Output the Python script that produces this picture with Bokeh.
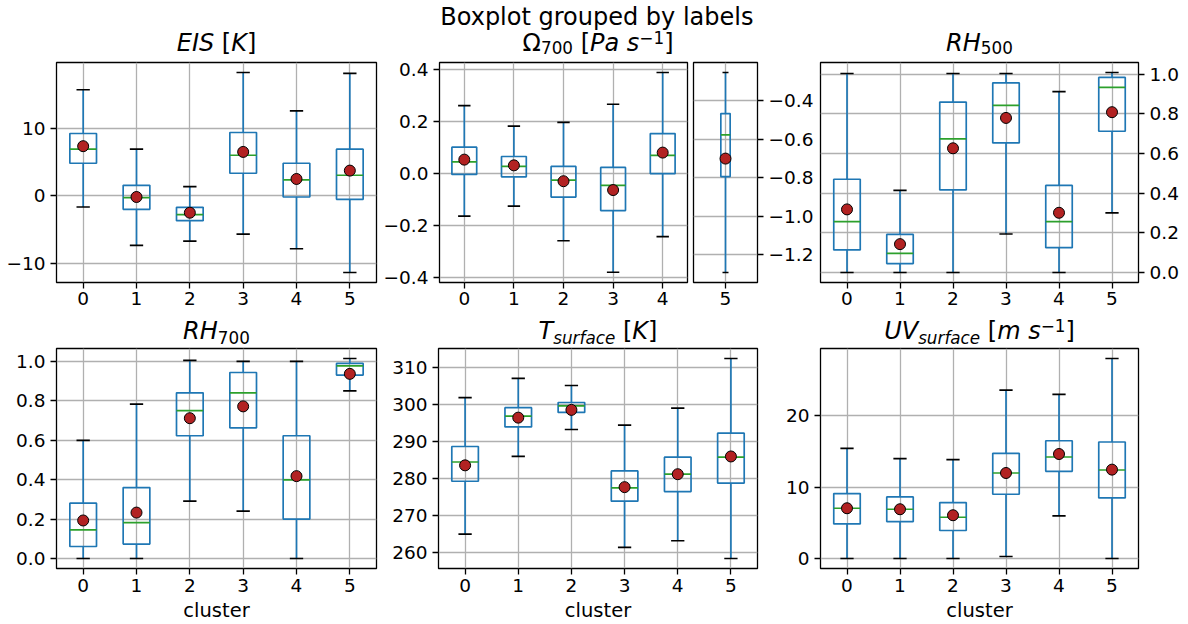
from bokeh.plotting import figure
from bokeh.layouts import column, row
from bokeh.models import Range1d, FixedTicker, CustomJSTickFormatter, ColumnDataSource
from bokeh.core.properties import value
from bokeh.embed import file_html
from bokeh.resources import INLINE

# ---------------- data ----------------
clusters = [0, 1, 2, 3, 4, 5]

eis_low  = [-1.63, -7.33, -6.68, -5.64, -7.82, -11.34]
eis_q1   = [4.85, -1.98, -3.66, 3.37, -0.15, -0.50]
eis_med  = [6.93, -0.25, -2.77, 6.04, 2.38, 3.07]
eis_q3   = [9.26, 1.58, -1.68, 9.41, 4.85, 6.93]
eis_high = [15.74, 6.93, 1.39, 18.30, 12.62, 18.17]
eis_mean = [7.38, -0.15, -2.48, 6.53, 2.52, 3.76]

om_low  = [-0.164, -0.126, -0.259, -0.380, -0.243, -0.381]
om_q1   = [-0.004, -0.013, -0.091, -0.143, -0.001, -0.012]
om_med  = [0.044, 0.027, -0.026, -0.046, 0.069, 0.148]
om_q3   = [0.101, 0.065, 0.027, 0.023, 0.153, 0.230]
om_high = [0.261, 0.182, 0.196, 0.266, 0.388, 0.388]
om_mean = [0.053, 0.031, -0.030, -0.064, 0.080, 0.057]

rh5_low  = [0.0, 0.0, 0.0, 0.194, 0.0, 0.301]
rh5_q1   = [0.114, 0.045, 0.416, 0.653, 0.125, 0.712]
rh5_med  = [0.256, 0.096, 0.673, 0.842, 0.256, 0.933]
rh5_q3   = [0.470, 0.192, 0.859, 0.956, 0.439, 0.983]
rh5_high = [1.003, 0.414, 1.003, 1.003, 0.912, 1.008]
rh5_mean = [0.318, 0.143, 0.626, 0.779, 0.301, 0.808]

rh7_low  = [0.0, 0.0, 0.291, 0.240, 0.0, 0.851]
rh7_q1   = [0.061, 0.073, 0.623, 0.663, 0.200, 0.931]
rh7_med  = [0.145, 0.182, 0.750, 0.841, 0.399, 0.978]
rh7_q3   = [0.281, 0.360, 0.841, 0.944, 0.623, 0.990]
rh7_high = [0.599, 0.783, 1.005, 1.000, 1.000, 1.015]
rh7_mean = [0.193, 0.233, 0.712, 0.772, 0.418, 0.937]

ts_low  = [265.0, 286.0, 293.3, 261.4, 263.2, 258.4]
ts_q1   = [279.3, 294.0, 297.9, 273.9, 276.5, 278.8]
ts_med  = [284.5, 296.9, 299.7, 277.5, 281.2, 285.8]
ts_q3   = [288.7, 299.2, 300.6, 282.1, 285.8, 292.3]
ts_high = [301.9, 307.1, 305.2, 294.5, 299.1, 312.5]
ts_mean = [283.6, 296.5, 298.6, 277.7, 281.2, 286.0]

uv_low  = [0.0, 0.0, 0.0, 0.28, 5.97, 0.0]
uv_q1   = [4.85, 5.17, 3.92, 9.00, 12.21, 8.48]
uv_med  = [7.04, 6.90, 5.78, 11.98, 14.22, 12.40]
uv_q3   = [9.09, 8.62, 7.83, 14.73, 16.50, 16.32]
uv_high = [15.43, 13.99, 13.85, 23.59, 22.98, 28.02]
uv_mean = [7.04, 6.90, 6.06, 11.98, 14.64, 12.45]

eis_ticks = [-10, 0, 10]
om_ticks = [-0.4, -0.2, 0.0, 0.2, 0.4]
twin_ticks = [-1.2, -1.0, -0.8, -0.6, -0.4]
twin_limits = [-1.344, -0.2026]
rh_ticks = [0.0, 0.2, 0.4, 0.6, 0.8, 1.0]
ts_ticks = [260, 270, 280, 290, 300, 310]
uv_ticks = [0, 10, 20]

suptitle = "Boxplot grouped by labels"
xlabel = "cluster"

# ---------------- styling ----------------
C_BOX = "#1f77b4"
C_MED = "#2ca02c"
C_MEAN = "#b22222"
LW = 1.7
FONT = "DejaVu Sans"
TICK_FS = "18.5px"
XLAB_FS = "19.5px"
TITLE_FS = 24.0
BASE_SHIFT = 0.336   # Bokeh places 'alphabetic' text this many em lower


def yrange(low, high, m=0.05):
    lo, hi = min(low), max(high)
    s = hi - lo
    return Range1d(lo - m * s, hi + m * s)


def fmt(d):
    return CustomJSTickFormatter(args=dict(d=d), code="""
const s = Math.abs(tick).toFixed(d);
return (tick < 0 && parseFloat(s) != 0 ? "\\u2212" : "") + s;
""")


def make_fig(w, h, xr, yr, bl, br, bt, bb, yloc="left"):
    p = figure(width=w, height=h, x_range=xr, y_range=yr, output_backend="svg",
               toolbar_location=None, title=None, y_axis_location=yloc,
               min_border_left=bl, min_border_right=br, min_border_top=bt,
               min_border_bottom=bb)
    p.outline_line_color = "black"
    p.outline_line_width = 1.3
    p.outline_line_alpha = 1.0
    p.background_fill_color = "white"
    p.border_fill_color = "white"
    return p


def style(p, xticks, yticks, ydec, xlab=None):
    for ax in p.axis:
        ax.axis_line_color = None
        ax.major_tick_line_color = "black"
        ax.major_tick_line_width = 1.3
        ax.major_tick_out = 6
        ax.major_tick_in = 0
        ax.minor_tick_line_color = None
        ax.major_label_text_font = FONT
        ax.major_label_text_font_size = TICK_FS
        ax.major_label_text_color = "black"
        ax.major_label_standoff = 5
    xt = FixedTicker(ticks=xticks)
    yt = FixedTicker(ticks=yticks)
    p.xaxis.ticker = xt
    p.yaxis.ticker = yt
    p.xgrid.ticker = xt
    p.ygrid.ticker = yt
    p.yaxis.formatter = fmt(ydec)
    p.xaxis.major_label_standoff = 3
    p.grid.grid_line_color = "#b0b0b0"
    p.grid.grid_line_width = 1.3
    if xlab:
        p.xaxis.major_label_standoff = 4
        p.xaxis.axis_label = xlab
        p.xaxis.axis_label_text_font = FONT
        p.xaxis.axis_label_text_font_size = XLAB_FS
        p.xaxis.axis_label_text_font_style = "normal"
        p.xaxis.axis_label_text_color = "black"
        p.xaxis.axis_label_standoff = 4


def draw_boxes(p, xs, low, q1, med, q3, high, mean, half=0.25, cap=0.125, yname="default"):
    src = ColumnDataSource(dict(
        x=xs, low=low, q1=q1, med=med, q3=q3, high=high, mean=mean,
        left=[x - half for x in xs], right=[x + half for x in xs],
        cl=[x - cap for x in xs], cr=[x + cap for x in xs]))
    kw = dict(source=src, y_range_name=yname)
    p.quad(left="left", right="right", bottom="q1", top="q3", fill_color=None,
           line_color=C_BOX, line_width=LW, **kw)
    p.segment(x0="x", y0="q3", x1="x", y1="high", line_color=C_BOX, line_width=LW, **kw)
    p.segment(x0="x", y0="q1", x1="x", y1="low", line_color=C_BOX, line_width=LW, **kw)
    p.segment(x0="cl", y0="high", x1="cr", y1="high", line_color="black", line_width=LW, **kw)
    p.segment(x0="cl", y0="low", x1="cr", y1="low", line_color="black", line_width=LW, **kw)
    p.segment(x0="left", y0="med", x1="right", y1="med", line_color=C_MED, line_width=LW, **kw)
    p.scatter(x="x", y="mean", size=11, fill_color=C_MEAN, line_color="black",
              line_width=1.0, **kw)


# ---------------- title helpers (DejaVu Sans advance widths / 2048) ----------------
ADV = {" ": 651, "[": 799, "]": 799, "\u2212": 1716, "\u03a9": 1577,
       "E": 1294, "I": 604, "S": 1300, "K": 1343, "R": 1423, "H": 1540, "P": 1235,
       "T": 1251, "U": 1499, "V": 1401, "a": 1255, "s": 1067, "u": 1298, "r": 842,
       "f": 721, "c": 1126, "e": 1260, "m": 1995, "B": 1405, "o": 1253, "x": 1212,
       "p": 1300, "l": 569, "t": 803, "g": 1300, "d": 1300, "b": 1300, "y": 1212}


def adv(t, fs):
    return sum(ADV.get(ch, 1303) for ch in t) / 2048.0 * fs


def put_title(p, cx, base, pieces, fs=TITLE_FS, sub=0.16, sup=0.36):
    """Mixed-style title; cx/base are pixel positions inside header figure p."""
    items = []
    for txt, ital, kind in pieces:
        size = fs * 0.7 if kind in ("sub", "sup") else fs
        dy = 0.0
        if kind == "sub":
            dy = sub * fs
        elif kind == "sup":
            dy = -sup * fs
        items.append((txt, ital, size, dy, adv(txt, size)))
    total = sum(it[4] for it in items)
    x = cx - total / 2.0
    for txt, ital, size, dy, w in items:
        if txt.strip():
            p.text(x=[x], y=[base + dy - BASE_SHIFT * size], text=[txt], text_font=value(FONT),
                   text_font_size=value("%.1fpx" % size),
                   text_font_style="italic" if ital else "normal",
                   text_align="left", text_baseline="alphabetic", text_color="black")
        x += w


def header(h):
    p = figure(width=1188, height=h, x_range=Range1d(0, 1188), y_range=Range1d(h, 0),
               x_axis_type=None, y_axis_type=None, output_backend="svg",
               toolbar_location=None, title=None, min_border=0)
    p.outline_line_color = None
    p.background_fill_color = "white"
    p.border_fill_color = "white"
    return p


# ---------------- header row 1 (page y 0..57) ----------------
h1 = header(57)
put_title(h1, 597, 25, [(suptitle, 0, "n")])
put_title(h1, 216, 51, [("EIS", 1, "n"), (" ", 0, "n"), ("[", 0, "n"), ("K", 1, "n"),
                        ("]", 0, "n")])
put_title(h1, 597.5, 51, [("\u03a9", 0, "n"), ("700", 0, "sub"), (" ", 0, "n"), ("[", 0, "n"),
                          ("Pa", 1, "n"), (" ", 0, "n"), ("s", 1, "n"), ("\u22121", 0, "sup"),
                          ("]", 0, "n")], sub=0.08)
put_title(h1, 979, 51, [("RH", 1, "n"), ("500", 0, "sub")], sub=0.08)

# ---------------- row 1 (page y 57..312) ----------------
R1H, R1T, R1B = 255, 5, 30
f_eis = make_fig(380, R1H, Range1d(-0.5, 5.5), yrange(eis_low, eis_high), 56, 4, R1T, R1B)
draw_boxes(f_eis, clusters, eis_low, eis_q1, eis_med, eis_q3, eis_high, eis_mean)
style(f_eis, clusters, eis_ticks, 0)

n5 = 5
f_om = make_fig(310, R1H, Range1d(-0.5, 4.5), yrange(om_low, om_high), 58, 3, R1T, R1B)
draw_boxes(f_om, clusters[:n5], om_low[:n5], om_q1[:n5], om_med[:n5], om_q3[:n5],
           om_high[:n5], om_mean[:n5])
style(f_om, clusters[:n5], om_ticks, 1)

f_nar = make_fig(128, R1H, Range1d(5 - 1.71, 5 + 1.71), Range1d(*twin_limits), 3, 61, R1T, R1B,
                 yloc="right")
f_nar.extra_y_ranges = {"om": yrange(om_low, om_high)}
draw_boxes(f_nar, clusters[n5:], om_low[n5:], om_q1[n5:], om_med[n5:], om_q3[n5:],
           om_high[n5:], om_mean[n5:], cap=0.16, yname="om")
style(f_nar, clusters[n5:], twin_ticks, 1)

f_rh5 = make_fig(370, R1H, Range1d(-0.5, 5.5), yrange(rh5_low, rh5_high), 2, 50, R1T, R1B,
                 yloc="right")
draw_boxes(f_rh5, clusters, rh5_low, rh5_q1, rh5_med, rh5_q3, rh5_high, rh5_mean)
style(f_rh5, clusters, rh_ticks, 1)

# ---------------- header row 2 (page y 312..347) ----------------
h2 = header(35)
put_title(h2, 216, 27, [("RH", 1, "n"), ("700", 0, "sub")])
put_title(h2, 597.5, 27, [("T", 1, "n"), ("surface", 1, "sub"), (" ", 0, "n"), ("[", 0, "n"),
                          ("K", 1, "n"), ("]", 0, "n")])
put_title(h2, 979, 27, [("UV", 1, "n"), ("surface", 1, "sub"), (" ", 0, "n"), ("[", 0, "n"),
                        ("m", 1, "n"), (" ", 0, "n"), ("s", 1, "n"), ("\u22121", 0, "sup"),
                        ("]", 0, "n")])

# ---------------- row 2 (page y 347..624) ----------------
R2H, R2T, R2B = 277, 1, 55
f_rh7 = make_fig(380, R2H, Range1d(-0.5, 5.5), yrange(rh7_low, rh7_high), 56, 4, R2T, R2B)
draw_boxes(f_rh7, clusters, rh7_low, rh7_q1, rh7_med, rh7_q3, rh7_high, rh7_mean)
style(f_rh7, clusters, rh_ticks, 1, xlabel)

f_ts = make_fig(380, R2H, Range1d(-0.5, 5.5), yrange(ts_low, ts_high), 58, 3, R2T, R2B)
draw_boxes(f_ts, clusters, ts_low, ts_q1, ts_med, ts_q3, ts_high, ts_mean)
style(f_ts, clusters, ts_ticks, 0, xlabel)

f_uv = make_fig(428, R2H, Range1d(-0.5, 5.5), yrange(uv_low, uv_high), 60, 50, R2T, R2B)
draw_boxes(f_uv, clusters, uv_low, uv_q1, uv_med, uv_q3, uv_high, uv_mean)
style(f_uv, clusters, uv_ticks, 0, xlabel)

layout = column(h1, row(f_eis, f_om, f_nar, f_rh5), h2, row(f_rh7, f_ts, f_uv))

open("out.html", "w").write(file_html(layout, INLINE))
